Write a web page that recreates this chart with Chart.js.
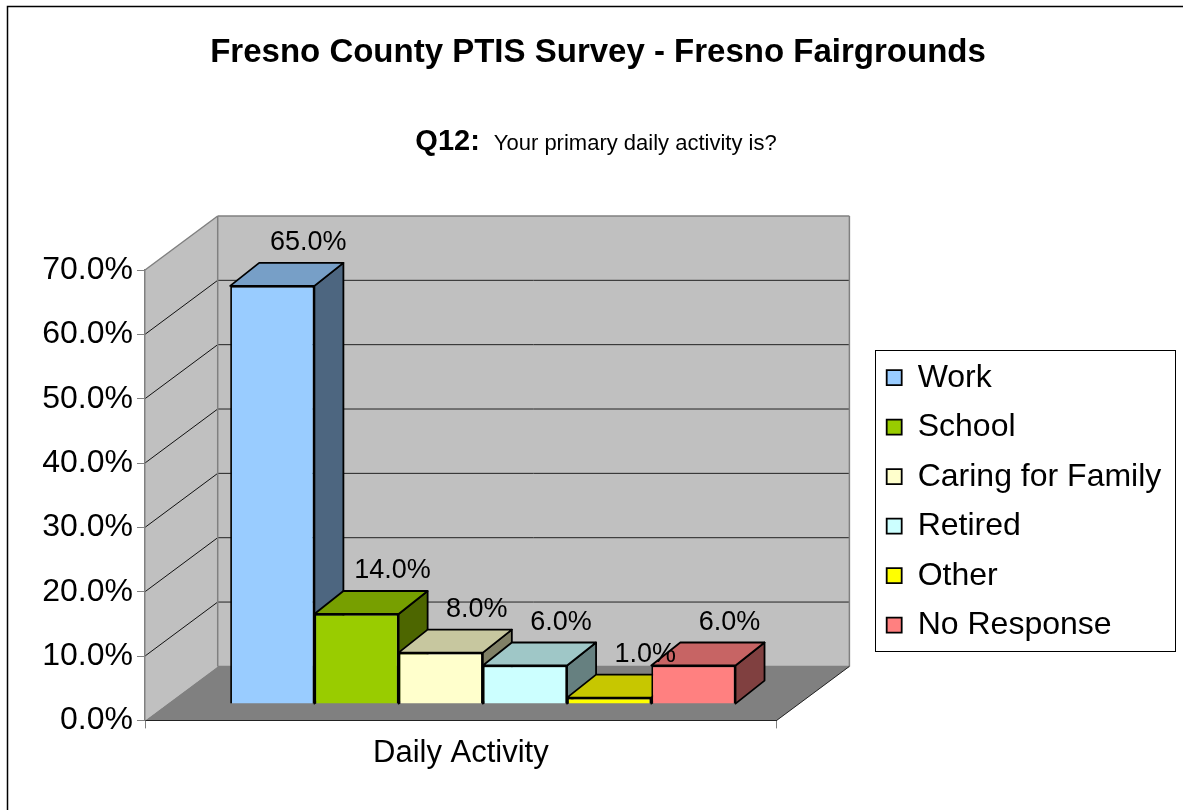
<!DOCTYPE html>
<html>
<head>
<meta charset="utf-8">
<title>Fresno County PTIS Survey - Q12</title>
<script src="https://cdn.jsdelivr.net/npm/chart.js@4.4.1/dist/chart.umd.min.js"></script>
<style>
  html, body { margin: 0; padding: 0; background: #fff; }
  canvas { display: block; }
</style>
</head>
<body>
<canvas id="chart" width="1183" height="810"></canvas>
<script>
const categories = ['Daily Activity'];
const activities = ['Work', 'School', 'Caring for Family', 'Retired', 'Other', 'No Response'];
const percents = [65.0, 14.0, 8.0, 6.0, 1.0, 6.0];
const barColors = ['#99CCFF', '#99CC00', '#FFFFCC', '#CCFFFF', '#FFFF00', '#FF8080'];
const yTicks = [0, 10, 20, 30, 40, 50, 60, 70];

const FONT = "'Liberation Sans', Arial, sans-serif";
// fake 3d: depth of the walls, where the bars sit, how deep the bars are
const WALL = { dx: 72.7, dy: -54 };
const BAR_SHIFT = { dx: 22, dy: -16.3 };
const BAR_DEPTH = { dx: 29, dy: -23 };

function shade(hex, f) {
  const n = parseInt(hex.slice(1), 16);
  const r = Math.round(((n >> 16) & 255) * f);
  const g = Math.round(((n >> 8) & 255) * f);
  const b = Math.round((n & 255) * f);
  return `rgb(${r},${g},${b})`;
}

function poly(ctx, pts, fill, stroke, lw) {
  ctx.beginPath();
  ctx.moveTo(pts[0][0], pts[0][1]);
  for (let i = 1; i < pts.length; i++) ctx.lineTo(pts[i][0], pts[i][1]);
  ctx.closePath();
  if (fill) { ctx.fillStyle = fill; ctx.fill(); }
  if (stroke) { ctx.strokeStyle = stroke; ctx.lineWidth = lw || 1; ctx.stroke(); }
}

function line(ctx, x1, y1, x2, y2, color, lw) {
  ctx.beginPath();
  ctx.moveTo(x1, y1);
  ctx.lineTo(x2, y2);
  ctx.strokeStyle = color;
  ctx.lineWidth = lw || 1;
  ctx.stroke();
}

const box3d = {
  id: 'box3d',
  beforeDraw(chart) {
    const ctx = chart.ctx;
    const a = chart.chartArea;
    const ys = chart.scales.y;
    const L = a.left, R = a.right, T = a.top, B = a.bottom;
    const dx = WALL.dx, dy = WALL.dy;
    ctx.save();
    // outer frame of the chart object
    ctx.strokeStyle = '#000';
    ctx.lineWidth = 1.5;
    ctx.strokeRect(7.5, 6.5, chart.width + 20, chart.height + 20);

    // side wall, back wall, floor
    poly(ctx, [[L, B], [L, T], [L + dx, T + dy], [L + dx, B + dy]], '#C0C0C0');
    poly(ctx, [[L + dx, T + dy], [R + dx, T + dy], [R + dx, B + dy], [L + dx, B + dy]], '#C0C0C0');
    poly(ctx, [[L, B], [R, B], [R + dx, B + dy], [L + dx, B + dy]], '#808080');

    // gridlines run across the side wall then along the back wall
    yTicks.forEach(v => {
      if (v === yTicks[0] || v === yTicks[yTicks.length - 1]) return;
      const py = ys.getPixelForValue(v);
      line(ctx, L, py, L + dx, py + dy, '#111', 1);
      line(ctx, L + dx, py + dy, R + dx, py + dy, '#222', 1);
    });

    // wall edges
    ctx.lineJoin = 'round';
    line(ctx, L, T, L + dx, T + dy, '#808080', 1.5);
    line(ctx, L + dx, T + dy, R + dx, T + dy, '#808080', 1.5);
    line(ctx, R + dx, T + dy, R + dx, B + dy, '#808080', 1.5);
    line(ctx, L + dx, T + dy, L + dx, B + dy, '#808080', 1.5);
    line(ctx, L + dx, B + dy, R + dx, B + dy, '#808080', 1.5);
    line(ctx, R, B, R + dx, B + dy, '#222', 1);
    ctx.restore();
  },
  beforeDatasetsDraw(chart) {
    const ctx = chart.ctx;
    ctx.save();
    ctx.translate(BAR_SHIFT.dx, BAR_SHIFT.dy);
    ctx.lineJoin = 'round';
    // side and top faces, left to right, so the next front face covers them
    chart.data.datasets.forEach((ds, i) => {
      const el = chart.getDatasetMeta(i).data[0];
      if (!el) return;
      const p = el.getProps(['x', 'y', 'base', 'width'], true);
      const l = p.x - p.width / 2, r = p.x + p.width / 2;
      const top = Math.min(p.y, p.base), bot = Math.max(p.y, p.base);
      const bx = BAR_DEPTH.dx, by = BAR_DEPTH.dy;
      const col = ds.backgroundColor;
      poly(ctx, [[r, top], [r + bx, top + by], [r + bx, bot + by], [r, bot]], shade(col, 0.5), '#000', 1.8);
      poly(ctx, [[l, top], [r, top], [r + bx, top + by], [l + bx, top + by]], shade(col, 0.78), '#000', 1.8);
    });
  },
  afterDatasetsDraw(chart) {
    const ctx = chart.ctx;
    ctx.fillStyle = '#000';
    ctx.font = '27px ' + FONT;
    ctx.textAlign = 'center';
    ctx.textBaseline = 'middle';
    chart.data.datasets.forEach((ds, i) => {
      const el = chart.getDatasetMeta(i).data[0];
      if (!el) return;
      ctx.fillText(ds.data[0].toFixed(1) + '%', el.x + 36, el.y - 43);
    });
    ctx.restore();
  },
  afterDraw(chart) {
    const ctx = chart.ctx;
    ctx.save();
    // subtitle, bold question number followed by plain question text
    const q = 'Q12:';
    const rest = 'Your primary daily activity is?';
    ctx.textBaseline = 'alphabetic';
    ctx.font = 'bold 29px ' + FONT;
    const wq = ctx.measureText(q).width;
    ctx.font = '22px ' + FONT;
    const wr = ctx.measureText(rest).width;
    const gap = 14;
    const x0 = 596 - (wq + gap + wr) / 2;
    ctx.fillStyle = '#000';
    ctx.font = 'bold 29px ' + FONT;
    ctx.fillText(q, x0, 149.5);
    ctx.font = '22px ' + FONT;
    ctx.fillText(rest, x0 + wq + gap, 149.5);

    // frame around the legend
    const hb = chart.legend.legendHitBoxes;
    if (hb && hb.length) {
      const left = hb[0].left - 12;
      const top = hb[0].top - 12;
      const bottom = hb[hb.length - 1].top + hb[hb.length - 1].height + 9;
      ctx.strokeStyle = '#000';
      ctx.lineWidth = 1;
      ctx.strokeRect(Math.round(left) + 0.5, Math.round(top) + 0.5, 300, Math.round(bottom - top));
    }
    ctx.restore();
  }
};

Chart.defaults.font.family = FONT;
Chart.defaults.color = '#000';

new Chart(document.getElementById('chart'), {
  type: 'bar',
  data: {
    labels: categories,
    datasets: activities.map((name, i) => ({
      label: name,
      data: [percents[i]],
      backgroundColor: barColors[i],
      borderColor: '#000',
      borderWidth: 1.8,
      categoryPercentage: 0.8,
      barPercentage: 1.0
    }))
  },
  options: {
    responsive: false,
    animation: false,
    events: [],
    layout: { padding: { left: 24.7, right: 11.7, top: 0, bottom: 31 } },
    scales: {
      x: {
        grid: { drawOnChartArea: false, tickLength: 8, color: '#808080' },
        border: { color: '#222', width: 1 },
        ticks: { font: { size: 31 }, color: '#000', padding: 6.7 }
      },
      y: {
        min: 0,
        max: 70,
        ticks: {
          stepSize: 10,
          font: { size: 32 },
          color: '#000',
          padding: 4,
          callback: v => v.toFixed(1) + '%'
        },
        grid: { drawOnChartArea: false, tickLength: 8, color: '#808080' },
        border: { color: '#808080', width: 1.5 },
        afterFit: s => { s.width = 120.3; }
      },
      // empty axis that only keeps room for the floor and the gap before the legend
      yRight: {
        type: 'linear',
        position: 'right',
        grid: { display: false },
        ticks: { display: false },
        border: { display: false },
        afterFit: s => { s.width = 92.5; }
      }
    },
    plugins: {
      title: {
        display: true,
        text: 'Fresno County PTIS Survey - Fresno Fairgrounds',
        font: { size: 33, weight: 'bold' },
        color: '#000',
        padding: { top: 33.5, bottom: 196.9 }
      },
      legend: {
        position: 'right',
        fullSize: false,
        maxWidth: 330,
        title: { display: true, text: '', font: { size: 12.5, lineHeight: 1 }, padding: 0 },
        labels: {
          boxWidth: 15,
          boxHeight: 15,
          padding: 17.5,
          font: { size: 32 },
          color: '#000'
        }
      },
      tooltip: { enabled: false }
    }
  },
  plugins: [box3d]
});
</script>
</body>
</html>
